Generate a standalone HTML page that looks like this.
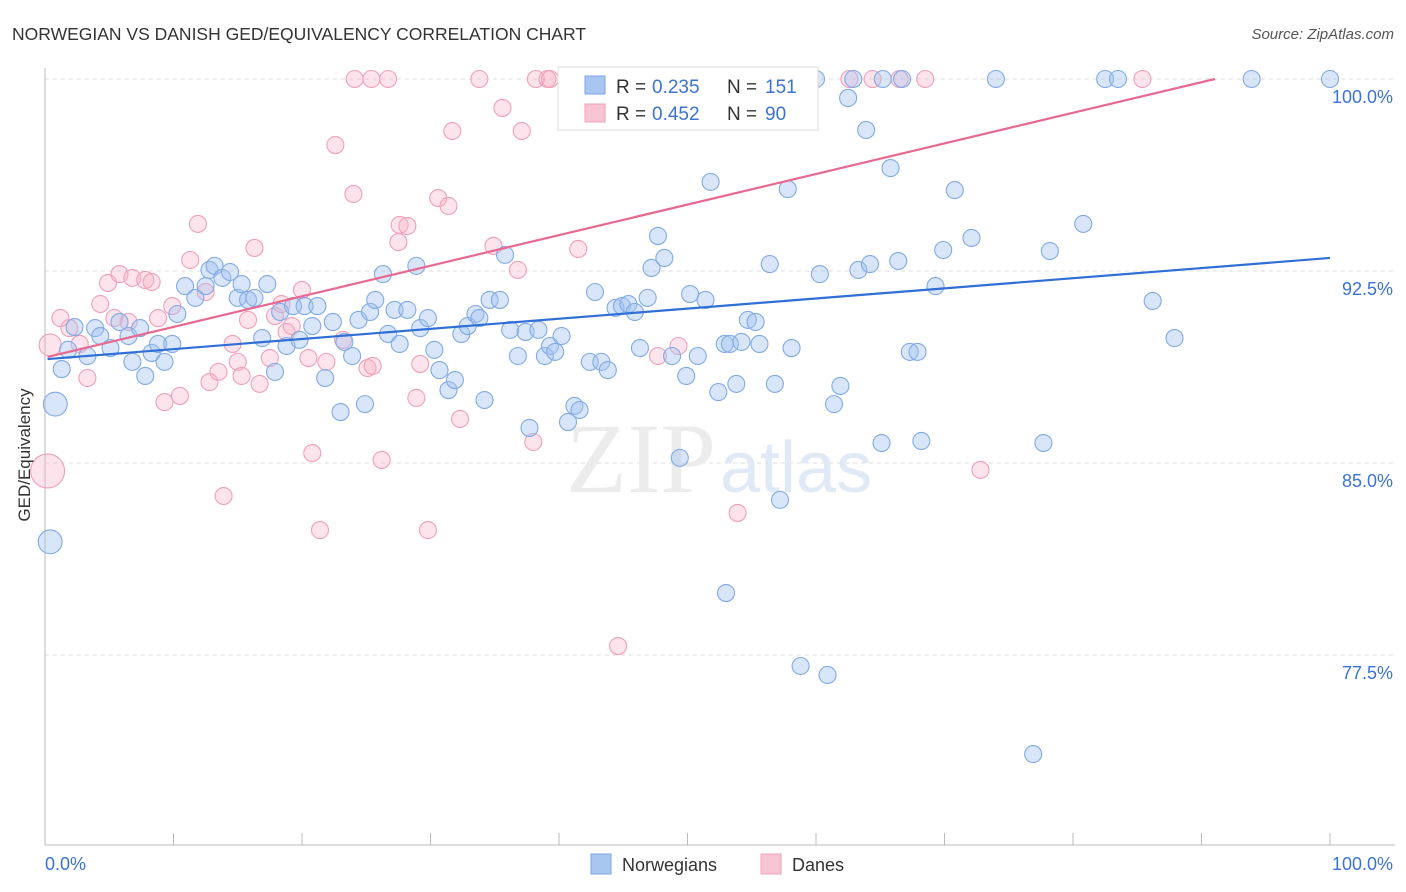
<!DOCTYPE html>
<html><head><meta charset="utf-8">
<style>
body{margin:0;background:#fff;font-family:"Liberation Sans",sans-serif;}
#c{position:relative;width:1406px;height:892px;overflow:hidden}
</style></head>
<body>
<div id="c">
<svg id="svg" width="1406" height="892" xmlns="http://www.w3.org/2000/svg">
<text x="12" y="40" font-size="17.5" fill="#333">NORWEGIAN VS DANISH GED/EQUIVALENCY CORRELATION CHART</text>
<text x="1394" y="39" font-size="15" fill="#555" text-anchor="end" font-style="italic">Source: ZipAtlas.com</text>
<g id="grid"></g>
<text x="716" y="492" font-size="100" font-family="Liberation Serif,serif" fill="#ececec" text-anchor="end">ZIP</text>
<text x="720" y="492" font-size="72" fill="#e0e9f6">atlas</text>
<g id="pts"></g>
<g id="trend"></g>
<text x="30" y="455" font-size="17" fill="#333" transform="rotate(-90 30 455)" text-anchor="middle">GED/Equivalency</text>
<text x="45" y="870" font-size="18" fill="#3b73d1">0.0%</text>
<text x="1393" y="870" font-size="18" fill="#3b73d1" text-anchor="end">100.0%</text>
<g>
<rect x="558" y="67" width="260" height="63" fill="#fff" stroke="#ddd"/>
<rect x="585" y="76" width="20" height="18" fill="#a9c6f0" stroke="#7aa6e6"/>
<rect x="585" y="104" width="20" height="18" fill="#f8c3d3" stroke="#f0a0b8"/>
<text x="616" y="93" font-size="19" fill="#333">R =</text>
<text x="652" y="93" font-size="19" fill="#3b73d1">0.235</text>
<text x="727" y="93" font-size="19" fill="#333">N =</text>
<text x="765" y="93" font-size="19" fill="#3b73d1">151</text>
<text x="616" y="120" font-size="19" fill="#333">R =</text>
<text x="652" y="120" font-size="19" fill="#3b73d1">0.452</text>
<text x="727" y="120" font-size="19" fill="#333">N =</text>
<text x="765" y="120" font-size="19" fill="#3b73d1">90</text>
</g>
<g>
<rect x="591" y="854" width="20" height="20" fill="#a9c6f0" stroke="#7aa6e6"/>
<text x="622" y="871" font-size="18" fill="#333">Norwegians</text>
<rect x="761" y="854" width="20" height="20" fill="#f8c3d3" stroke="#f0a0b8"/>
<text x="792" y="871" font-size="18" fill="#333">Danes</text>
</g>
</svg>
</div>
<script>
const yTicks=[100,92.5,85,77.5];
const yTickLabels=["100.0%","92.5%","85.0%","77.5%"];
const xTicks=[0,10,20,30,40,50,60,70,80,90,100];
const blueX=[0.8,0.4,1.3,2.3,1.8,3.3,3.9,4.3,5.1,5.8,6.5,6.8,7.4,7.8,8.3,8.8,9.3,9.9,10.3,10.9,11.7,12.5,12.8,13.2,13.8,14.4,15.0,15.3,15.8,16.3,16.9,17.3,17.9,18.3,18.8,19.3,19.8,20.2,20.8,21.2,21.8,22.4,23.0,23.3,23.9,24.4,24.9,25.3,25.7,26.3,26.7,27.2,27.6,28.2,28.9,29.2,29.8,30.3,30.7,31.4,31.9,32.4,32.9,33.5,33.8,34.2,34.6,35.4,35.8,36.2,36.8,37.4,37.7,38.4,38.9,39.3,39.7,40.2,40.7,41.2,41.6,42.4,42.8,43.3,43.8,44.4,44.9,45.4,45.9,46.3,46.9,47.2,47.7,48.2,48.8,49.4,49.9,50.2,50.8,51.4,51.8,52.4,52.9,53.0,53.3,53.8,54.2,54.7,55.3,55.6,56.4,56.8,57.2,57.8,58.1,58.8,60.0,60.3,60.9,61.4,61.9,62.5,62.9,63.3,63.9,64.2,65.1,65.2,65.8,66.4,66.7,67.3,67.9,68.2,69.3,69.9,70.8,72.1,74.0,76.9,77.7,78.2,80.8,82.5,83.5,86.2,87.9,93.9,100];
const blueY=[87.30,81.92,88.67,90.31,89.42,89.18,90.27,89.96,89.49,90.51,89.96,88.95,90.27,88.40,89.30,89.65,88.95,89.65,90.82,91.91,91.45,91.91,92.54,92.70,92.23,92.46,91.45,91.99,91.37,91.45,89.88,91.99,88.56,90.90,89.57,91.13,89.81,91.13,90.35,91.13,88.32,90.51,86.99,89.73,89.18,90.59,87.30,90.90,91.37,92.38,90.04,90.98,89.65,90.98,92.70,90.27,90.66,89.42,88.63,87.85,88.24,90.04,90.35,90.82,90.66,87.46,91.37,91.37,93.13,90.20,89.18,90.12,86.37,90.20,89.18,89.57,89.34,89.96,86.60,87.23,87.07,88.95,91.68,88.95,88.63,91.06,91.13,91.21,90.90,89.49,91.45,92.62,93.87,93.01,89.18,85.20,88.40,91.60,89.18,91.37,95.98,87.77,89.65,79.92,89.65,88.09,89.73,90.59,90.51,89.65,92.77,88.09,83.56,95.70,89.49,77.07,100,92.38,76.72,87.30,88.01,99.26,100,92.54,98.01,92.77,85.78,100,96.52,92.89,100,89.34,89.34,85.86,91.91,93.32,95.66,93.79,100,73.63,85.78,93.28,94.34,100,100,91.33,89.88,100,100];
const blueWeight=[1.4,1.4];
const pinkX=[0.2,0.4,1.2,1.9,2.7,3.3,4.3,4.9,5.4,5.8,6.5,6.8,7.8,8.3,8.8,9.3,9.9,10.5,11.3,11.9,12.5,12.8,13.5,13.9,14.6,15.0,15.3,15.8,16.3,16.7,17.5,17.9,18.4,18.8,19.2,20.0,20.5,20.8,21.4,21.9,22.6,23.2,24.0,24.1,25.1,25.5,25.4,26.2,26.7,27.5,27.6,28.2,28.9,29.2,29.8,30.6,31.4,31.7,32.3,33.8,34.9,35.6,36.8,37.1,38.0,38.2,39.1,39.3,41.5,44.6,47.7,49.3,49.9,53.9,54.2,62.6,64.4,66.5,68.5,72.8,85.4];
const pinkY=[84.69,89.61,90.66,90.27,89.65,88.32,91.21,92.03,90.66,92.38,90.51,92.23,92.15,92.07,90.66,87.38,91.13,87.62,92.93,94.34,91.68,88.16,88.56,83.71,89.65,88.95,88.40,90.59,93.40,88.09,89.10,90.74,91.21,90.12,90.35,91.76,89.10,85.39,82.38,88.95,97.42,89.81,95.51,100,88.71,88.79,100,85.12,100,93.63,94.30,94.26,87.54,88.87,82.38,95.35,95.04,97.97,86.72,100,93.48,98.87,92.54,97.97,85.82,100,100,100,93.36,77.85,89.18,89.57,100,83.05,100,100,100,100,100,84.73,100];
const pinkWeight=[2,1.3];
const blueTrend=[89.06,93.01];
const pinkTrend=[89.12,0.1195];

const NS="http://www.w3.org/2000/svg";
const X0=45,X1=1330,YTOP=79,YSCALE=25.6;
function sx(v){return X0+(X1-X0)*v/100;}
function sy(v){return YTOP+(100-v)*YSCALE;}
function mk(tag,attrs,parent){const e=document.createElementNS(NS,tag);for(const k in attrs)e.setAttribute(k,attrs[k]);parent.appendChild(e);return e;}
const grid=document.getElementById('grid');
yTicks.forEach((t,i)=>{
  const l=mk('line',{x1:45,x2:1395,y1:sy(t),y2:sy(t),stroke:'#ddd','stroke-dasharray':'4,4'},grid);
  
  
  const tx=mk('text',{x:1393,y:sy(t)+24,'font-size':18,fill:'#3b73d1','text-anchor':'end'},grid);
  tx.textContent=yTickLabels[i];
  
  
});
const ax=mk('line',{x1:45,x2:1395,y1:845,y2:845,stroke:'#bbb'},grid);


const ay=mk('line',{x1:45,x2:45,y1:68,y2:845,stroke:'#bbb'},grid);


xTicks.forEach(t=>{
  const l=mk('line',{x1:sx(t),x2:sx(t),y1:833,y2:845,stroke:'#bbb'},grid);
  
  
});
const pts=document.getElementById('pts');
pinkX.forEach((x,i)=>{
  const r=8.5*(pinkWeight[i]||1);
  const c=mk('circle',{cx:sx(x),cy:sy(pinkY[i]),r:r,fill:'rgba(248,175,198,0.35)',stroke:'#f0a0b8','stroke-width':1.1},pts);
  
  
});
blueX.forEach((x,i)=>{
  const r=8.5*(blueWeight[i]||1);
  const c=mk('circle',{cx:sx(x),cy:sy(blueY[i]),r:r,fill:'rgba(160,192,240,0.4)',stroke:'#80aae6','stroke-width':1.1},pts);
  
  
});
const tr=document.getElementById('trend');
const bl=mk('line',{x1:sx(0.2),y1:sy(blueTrend[0]),x2:sx(100),y2:sy(blueTrend[1]),stroke:'#2f6fd6','stroke-width':2.2},tr);


const xEnd=(100-pinkTrend[0])/pinkTrend[1];
const pl=mk('line',{x1:sx(0.2),y1:sy(pinkTrend[0]+pinkTrend[1]*0.2),x2:sx(xEnd),y2:sy(100),stroke:'#e8698f','stroke-width':2.2},tr);


</script>
</body></html>
